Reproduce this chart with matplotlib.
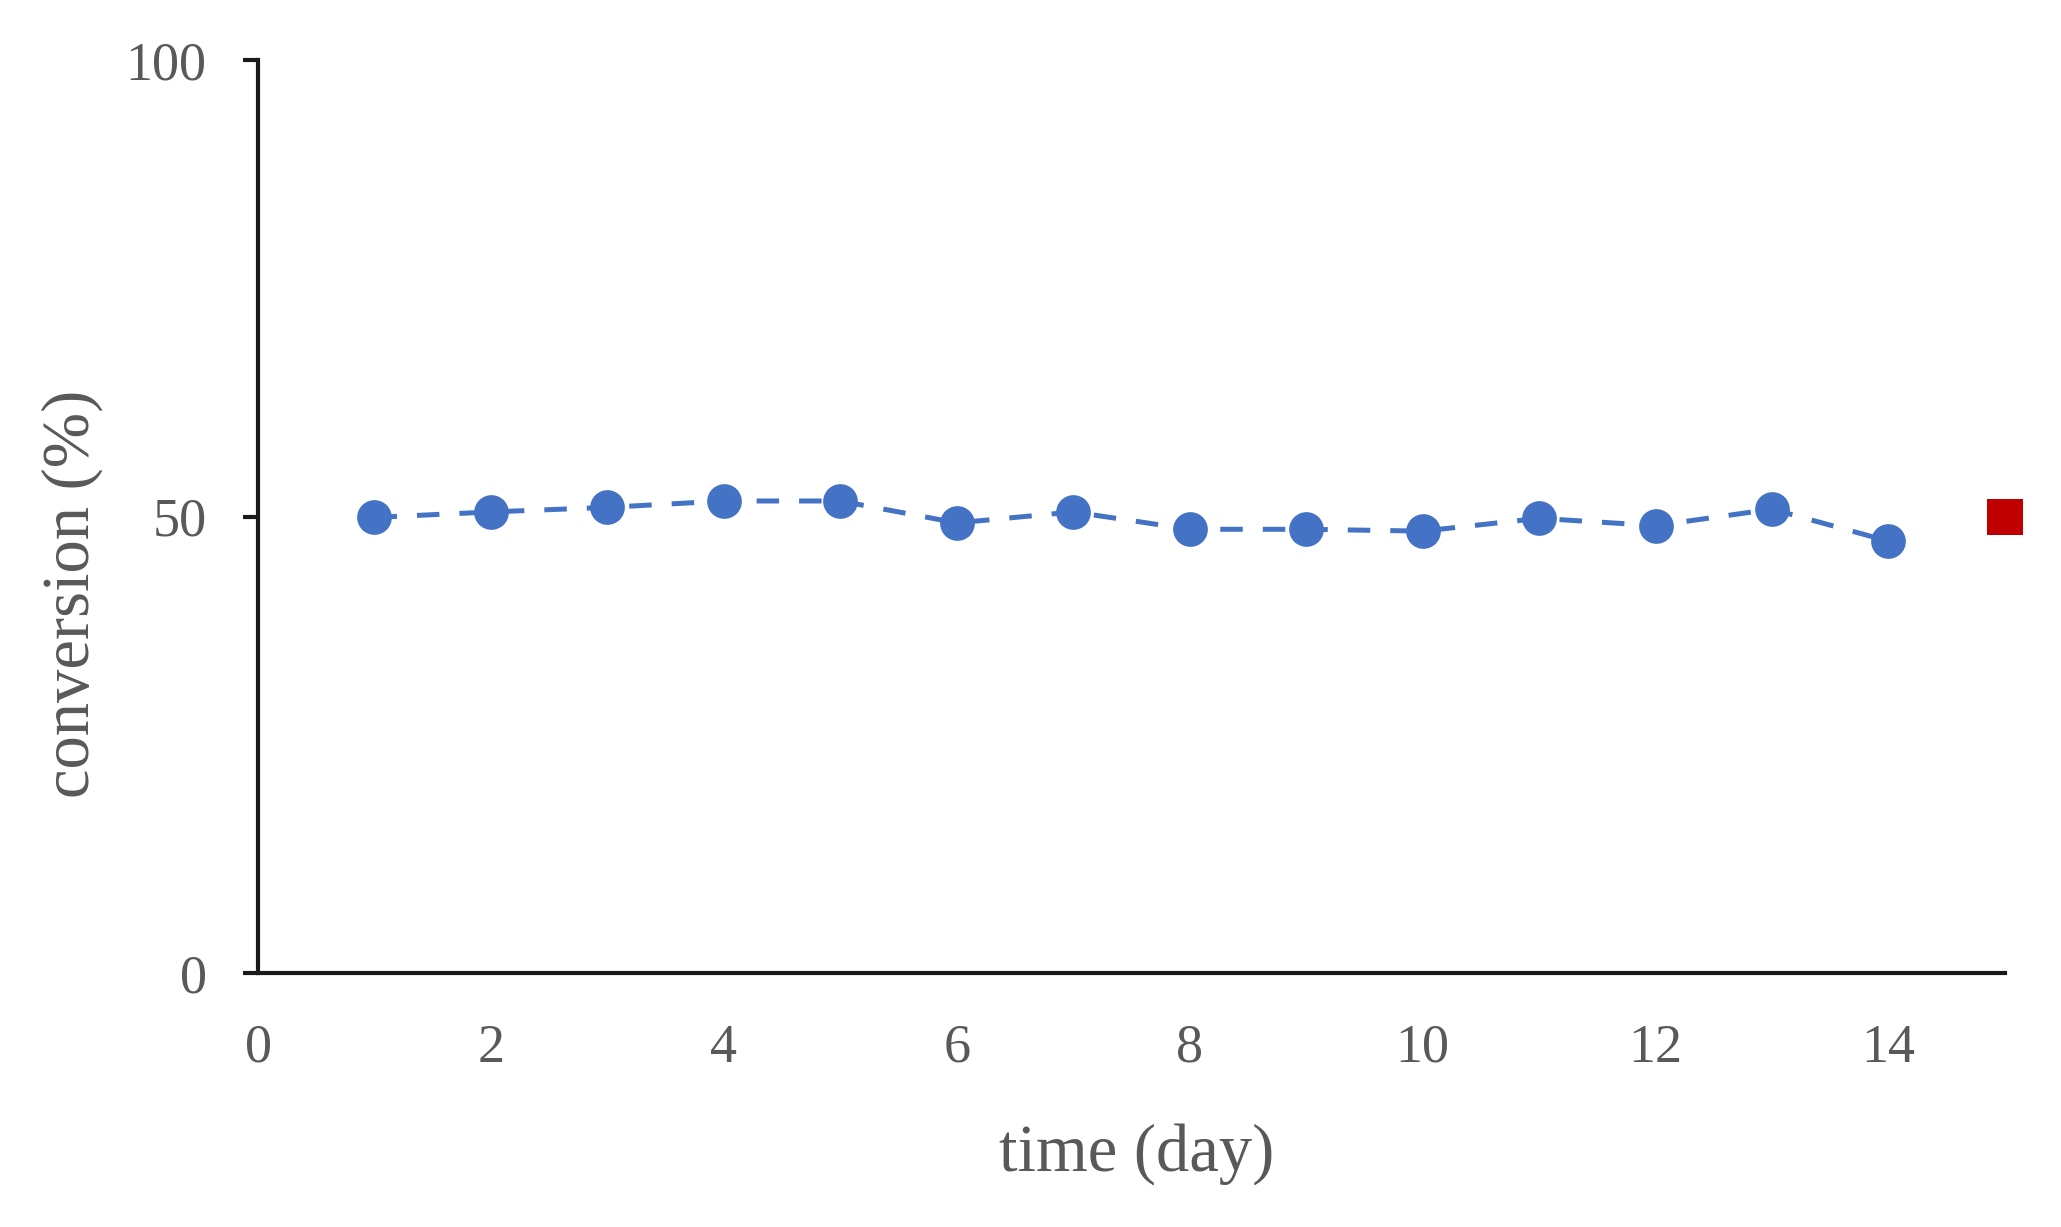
import matplotlib
matplotlib.use("Agg")
import matplotlib.pyplot as plt

days = [1, 2, 3, 4, 5, 6, 7, 8, 9, 10, 11, 12, 13, 14]
conversion = [49.9, 50.5, 51.0, 51.7, 51.7, 49.3, 50.5, 48.6, 48.6, 48.4, 49.8, 49.0, 50.8, 47.3]
ref_day = [15]
ref_conversion = [50.0]
xticks = [0, 2, 4, 6, 8, 10, 12, 14]
yticks = [0, 50, 100]

plt.rcParams['font.family'] = ['Liberation Serif', 'DejaVu Serif']
text_color = '#595959'

fig = plt.figure(figsize=(20.61, 12.27), dpi=100)
ax = fig.add_axes([0.1252, 0.207, 0.9728 - 0.1252, 0.9511 - 0.207])

ax.plot(days, conversion, color='#4472C4', linestyle=(0, (4.5, 4.0)), linewidth=3.6,
        marker='o', markersize=25, markeredgewidth=0, zorder=3)
ax.plot(ref_day, ref_conversion, linestyle='none', marker='s', markersize=26,
        color='#C00000', markeredgewidth=0, zorder=3, clip_on=False)

ax.set_xlim(0, 15)
ax.set_ylim(0, 100)
ax.set_xticks(xticks)
ax.set_yticks(yticks)

for s in ['top', 'right']:
    ax.spines[s].set_visible(False)
for s in ['left', 'bottom']:
    ax.spines[s].set_linewidth(3)
    ax.spines[s].set_color('#1a1a1a')

ax.tick_params(axis='y', length=11, width=3, color='#1a1a1a', pad=26,
               labelsize=39, labelcolor=text_color)
ax.tick_params(axis='x', length=0, pad=36, labelsize=39, labelcolor=text_color)

fig.text(1137 / 2061, 1 - 1154 / 1227, 'time (day)', ha='center', va='center',
         fontsize=48, color=text_color)
fig.text(72 / 2061, 1 - 594 / 1227, 'conversion (%)', ha='center', va='center',
         rotation=90, fontsize=48, color=text_color)

fig.savefig('out.png', dpi=100)
